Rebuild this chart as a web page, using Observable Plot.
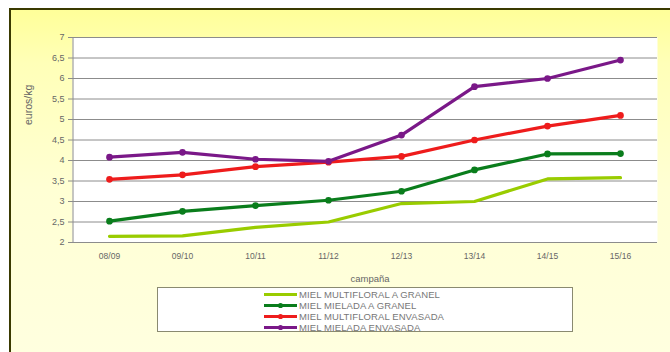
<!DOCTYPE html>
<html>
<head>
<meta charset="utf-8">
<script src="https://cdn.jsdelivr.net/npm/d3@7"></script>
<script src="https://cdn.jsdelivr.net/npm/@observablehq/plot@0.6"></script>
<style>
  html, body { margin: 0; padding: 0; background: #fff; }
  #wrap {
    position: relative; width: 670px; height: 352px; overflow: hidden;
    font-family: "Liberation Sans", Arial, sans-serif;
  }
  #bg {
    position: absolute; left: 9px; top: 8px; width: 670px; height: 360px;
    border-top: 2px solid #3a3a00; border-left: 2px solid #3a3a00;
    background: linear-gradient(to bottom, #ffff99 0%, #ffffb8 15%, #ffffd4 50%, #ffffe0 100%);
    box-sizing: border-box;
  }
  #chart { position: absolute; left: 0; top: 0; }
  #legend {
    position: absolute; left: 157px; top: 287px; width: 416px; height: 45px;
    background: #fff; border: 1px solid #8a8a70; box-sizing: border-box;
  }
  .row { position: absolute; left: 106px; height: 11px; display: flex; align-items: center;
    font-size: 9.5px; color: #777; letter-spacing: 0.1px; white-space: nowrap; }
  .row svg { margin-right: 2px; }
</style>
</head>
<body>
<div id="wrap">
  <div id="bg"></div>
  <div id="chart"></div>
  <div id="legend"></div>
</div>
<script>
const campaigns = ["08/09", "09/10", "10/11", "11/12", "12/13", "13/14", "14/15", "15/16"];
const seriesNames = ["MIEL MULTIFLORAL A GRANEL", "MIEL MIELADA A GRANEL", "MIEL MULTIFLORAL ENVASADA", "MIEL MIELADA ENVASADA"];
const multifloralGranel = [2.15, 2.16, 2.37, 2.5, 2.95, 3.0, 3.55, 3.58];
const mieladaGranel = [2.52, 2.76, 2.9, 3.03, 3.25, 3.77, 4.16, 4.17];
const multifloralEnvasada = [3.54, 3.65, 3.85, 3.96, 4.1, 4.5, 4.84, 5.1];
const mieladaEnvasada = [4.08, 4.2, 4.03, 3.98, 4.62, 5.8, 6.0, 6.45];
const yTicks = [2, 2.5, 3, 3.5, 4, 4.5, 5, 5.5, 6, 6.5, 7];
const colors = ["#99cc00", "#0a7d1c", "#ee1c1c", "#7a1888"];
const hasMarker = [false, true, true, true];

const allSeries = [multifloralGranel, mieladaGranel, multifloralEnvasada, mieladaEnvasada];
const data = allSeries.flatMap((vals, i) => vals.map((v, j) => ({serie: seriesNames[i], campaign: campaigns[j], value: v})));
const markerData = data.filter(d => hasMarker[seriesNames.indexOf(d.serie)]);
const fmt = d => String(d).replace(".", ",");

const chart = Plot.plot({
  width: 670,
  height: 290,
  marginLeft: 72,
  marginRight: 13,
  marginTop: 37,
  marginBottom: 48,
  style: {background: "transparent", fontFamily: "Liberation Sans, Arial, sans-serif", fontSize: "9px", color: "#666"},
  x: {type: "point", domain: campaigns, padding: 0.5, label: null},
  y: {domain: [2, 7], label: null},
  color: {domain: seriesNames, range: colors},
  marks: [
    Plot.frame({fill: "white", stroke: null}),
    Plot.gridY(yTicks, {stroke: "#8c8c8c", strokeOpacity: 1, strokeWidth: 1}),
    Plot.ruleX([campaigns[0]], {stroke: "#8c8c8c", dx: -36.5}),
    Plot.axisY(yTicks, {tickFormat: fmt, tickSize: 4, stroke: "#8c8c8c", fill: "#666", fontSize: 9, tickPadding: 4}),
    Plot.axisX({tickSize: 0, fill: "#666", fontSize: 8.5, tickPadding: 10}),
    Plot.ruleY([2], {stroke: "#8c8c8c"}),
    Plot.line(data, {x: "campaign", y: "value", z: "serie", stroke: "serie", strokeWidth: 3.2, strokeLinejoin: "round"}),
    Plot.dot(markerData, {x: "campaign", y: "value", fill: "serie", stroke: "serie", r: 2.6}),
    Plot.text(["campaña"], {frameAnchor: "bottom", dy: 39, fontSize: 9.5, fill: "#666", dx: 5}),
    Plot.text(["euros/kg"], {frameAnchor: "left", dx: -44, dy: -15, rotate: -90, fontSize: 10.5, fill: "#666"})
  ]
});
document.getElementById("chart").appendChild(chart);

const legend = document.getElementById("legend");
seriesNames.forEach((name, i) => {
  const row = document.createElement("div");
  row.className = "row";
  row.style.top = (1 + i * 11) + "px";
  const marker = hasMarker[i] ? `<circle cx="16.5" cy="5.5" r="2.6" fill="${colors[i]}"/>` : "";
  row.innerHTML = `<svg width="33" height="11"><line x1="0" x2="33" y1="5.5" y2="5.5" stroke="${colors[i]}" stroke-width="3.2"/>${marker}</svg><span>${name}</span>`;
  legend.appendChild(row);
});
</script>
</body>
</html>
